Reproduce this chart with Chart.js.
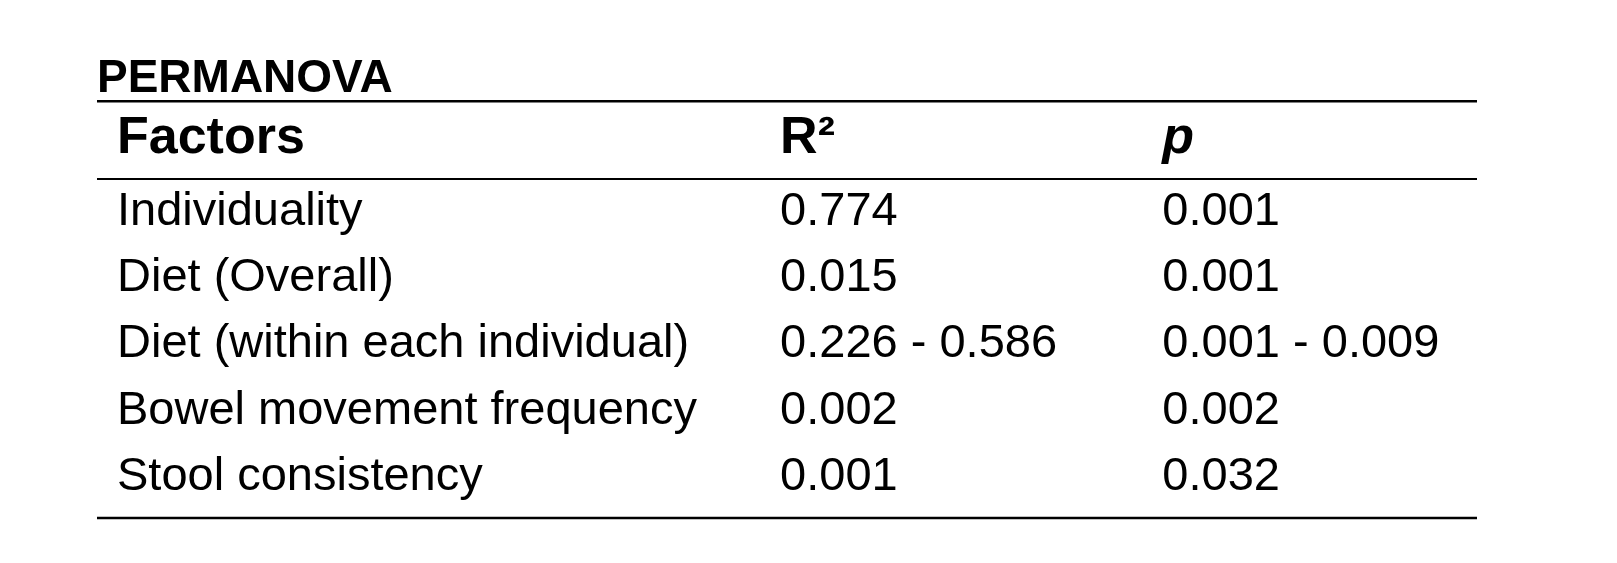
<!DOCTYPE html>
<html><head><meta charset="utf-8">
<script src="https://cdn.jsdelivr.net/npm/chart.js@4"></script>
<style>html,body{margin:0;background:#fff}</style>
</head><body>
<canvas id="c" width="1617" height="563"></canvas>
<script>
const title = "PERMANOVA";
const headers = ["Factors", "R²", "p"];
const factors = ["Individuality", "Diet (Overall)", "Diet (within each individual)", "Bowel movement frequency", "Stool consistency"];
const r2Values = ["0.774", "0.015", "0.226 - 0.586", "0.002", "0.001"];
const pValues = ["0.001", "0.001", "0.001 - 0.009", "0.002", "0.032"];

const colX = [0.0145, 0.495, 0.772];
const FONT = '"Liberation Sans", Arial, sans-serif';

const tablePlugin = {
  id: 'table',
  afterDraw(chart) {
    const ctx = chart.ctx, x = chart.scales.x, y = chart.scales.y;
    ctx.save();
    ctx.fillStyle = '#000'; ctx.strokeStyle = '#000';
    ctx.textBaseline = 'middle'; ctx.textAlign = 'left';
    const L = x.getPixelForValue(0), R = x.getPixelForValue(1);
    const hline = (v, w) => { const py = y.getPixelForValue(v); ctx.lineWidth = w; ctx.beginPath(); ctx.moveTo(L, py); ctx.lineTo(R, py); ctx.stroke(); };
    hline(-0.67, 2.5); hline(0.5, 2); hline(5.62, 2.5);
    ctx.font = 'bold 46px ' + FONT;
    ctx.fillText(title, L, y.getPixelForValue(-1.0));
    headers.forEach((h, i) => {
      ctx.font = (i === 2 ? 'italic bold 52px ' : 'bold 52px ') + FONT;
      ctx.fillText(h, x.getPixelForValue(colX[i]), y.getPixelForValue(-0.1));
    });
    ctx.font = '47px ' + FONT;
    factors.forEach((f, r) => {
      const yy = y.getPixelForValue(r + 1);
      ctx.fillText(f, x.getPixelForValue(colX[0]), yy);
      ctx.fillText(r2Values[r], x.getPixelForValue(colX[1]), yy);
      ctx.fillText(pValues[r], x.getPixelForValue(colX[2]), yy);
    });
    ctx.restore();
  }
};

new Chart(document.getElementById('c'), {
  type: 'scatter',
  data: { datasets: [{ data: [] }] },
  options: {
    responsive: false, animation: false, devicePixelRatio: 1,
    layout: { padding: { left: 97, right: 140, top: 145.75, bottom: 36.3 } },
    plugins: { legend: { display: false }, tooltip: { enabled: false } },
    scales: {
      x: { type: 'linear', min: 0, max: 1, display: false },
      y: { type: 'linear', min: 0, max: 5.75, reverse: true, display: false, afterFit: null }
    }
  },
  plugins: [tablePlugin]
});
</script>
</body></html>
